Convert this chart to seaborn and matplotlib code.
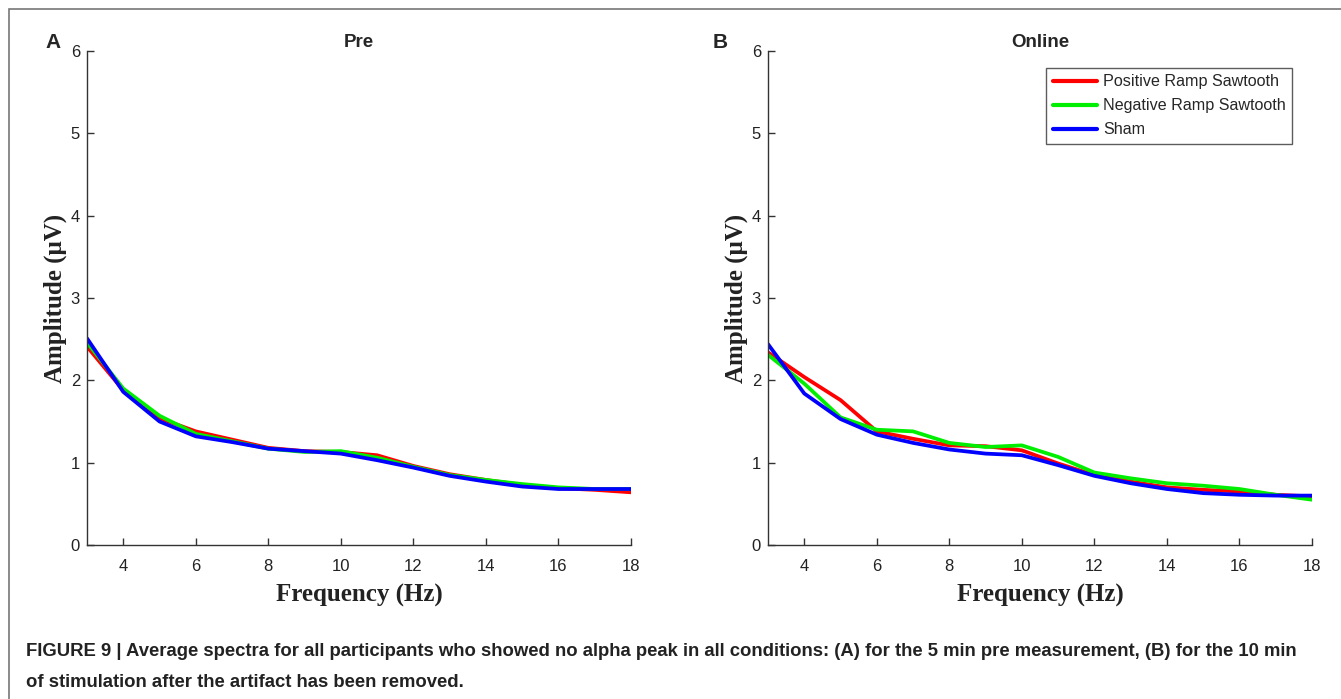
import numpy as np
import pandas as pd
import matplotlib
matplotlib.use("Agg")
import matplotlib.pyplot as plt
import seaborn as sns
from matplotlib.patches import Rectangle

# ---- data ----
freq = [3, 4, 5, 6, 7, 8, 9, 10, 11, 12, 13, 14, 15, 16, 17, 18]

pre_positive = [2.41, 1.88, 1.54, 1.38, 1.28, 1.18, 1.14, 1.13, 1.09, 0.96, 0.86, 0.79, 0.73, 0.69, 0.67, 0.64]
pre_negative = [2.46, 1.90, 1.57, 1.35, 1.26, 1.17, 1.13, 1.14, 1.06, 0.95, 0.85, 0.79, 0.74, 0.70, 0.68, 0.68]
pre_sham     = [2.51, 1.86, 1.50, 1.32, 1.25, 1.17, 1.14, 1.11, 1.03, 0.94, 0.84, 0.77, 0.71, 0.68, 0.68, 0.68]

freq_online_pos = [3, 4, 5, 5.5, 6, 7, 8, 9, 10, 11, 12, 13, 14, 15, 16, 17, 18]
online_positive = [2.34, 2.04, 1.76, 1.57, 1.38, 1.29, 1.21, 1.20, 1.15, 0.99, 0.85, 0.77, 0.70, 0.67, 0.65, 0.61, 0.59]
online_negative = [2.31, 1.96, 1.55, 1.40, 1.38, 1.24, 1.19, 1.21, 1.07, 0.88, 0.81, 0.75, 0.72, 0.68, 0.61, 0.55]
online_sham     = [2.44, 1.84, 1.53, 1.34, 1.24, 1.16, 1.11, 1.09, 0.97, 0.84, 0.75, 0.68, 0.63, 0.61, 0.60, 0.60]

conditions = ["Positive Ramp Sawtooth", "Negative Ramp Sawtooth", "Sham"]
colors = ["#ff0000", "#00ee00", "#0000ff"]
titles = ["Pre", "Online"]
letters = ["A", "B"]
x_ticks = [4, 6, 8, 10, 12, 14, 16, 18]
y_ticks = [0, 1, 2, 3, 4, 5, 6]
caption = ("FIGURE 9 | Average spectra for all participants who showed no alpha peak in all conditions: "
           "(A) for the 5 min pre measurement, (B) for the 10 min\n"
           "of stimulation after the artifact has been removed.")


def long_frame(xs_list, ys_list):
    rows = []
    for cond, xs, ys in zip(conditions, xs_list, ys_list):
        for x, y in zip(xs, ys):
            rows.append({"Frequency": x, "Amplitude": y, "Condition": cond})
    return pd.DataFrame(rows)


df_pre = long_frame([freq, freq, freq], [pre_positive, pre_negative, pre_sham])
df_online = long_frame([freq_online_pos, freq, freq], [online_positive, online_negative, online_sham])

sns.set_style("ticks")
plt.rcParams["font.family"] = ["Liberation Sans", "DejaVu Sans"]

W, H = 1341, 699
fig = plt.figure(figsize=(W / 100, H / 100), dpi=100)
ax_w, ax_top, ax_bot = 544, 51, 545
axA = fig.add_axes([87 / W, 1 - ax_bot / H, ax_w / W, (ax_bot - ax_top) / H])
axB = fig.add_axes([768 / W, 1 - ax_bot / H, ax_w / W, (ax_bot - ax_top) / H])

palette = dict(zip(conditions, colors))
for ax, df, title in zip([axA, axB], [df_pre, df_online], titles):
    sns.lineplot(data=df, x="Frequency", y="Amplitude", hue="Condition",
                 hue_order=conditions, palette=palette, linewidth=2.7,
                 ax=ax, legend=(ax is axB), sort=True, estimator=None)
    ax.set_xlim(3, 18)
    ax.set_ylim(0, 6)
    ax.set_xticks(x_ticks)
    ax.set_yticks(y_ticks)
    ax.tick_params(direction="in", length=5, width=1, colors="#333333",
                   labelsize=12, labelcolor="#222222")
    ax.tick_params(axis="x", pad=10)
    ax.tick_params(axis="y", pad=5)
    for s in ["top", "right"]:
        ax.spines[s].set_visible(False)
    for s in ["left", "bottom"]:
        ax.spines[s].set_color("#333333")
        ax.spines[s].set_linewidth(1.0)
    ax.set_xlabel("Frequency (Hz)", family="Liberation Serif", fontweight="bold",
                  fontsize=18, color="#222222", labelpad=7)
    ax.set_ylabel("Amplitude (\u03bcV)", family="Liberation Serif", fontweight="bold",
                  fontsize=18, color="#222222", labelpad=3)
    ax.set_title(title, fontweight="bold", fontsize=13.5, pad=3)
    ax.patch.set_alpha(0)

fig.text(45 / W, 1 - 43 / H, letters[0], fontweight="bold", fontsize=15, va="center", ha="left")
fig.text(713 / W, 1 - 43 / H, letters[1], fontweight="bold", fontsize=15, va="center", ha="left")

leg = axB.legend(loc="upper right", bbox_to_anchor=(1292 / W, 1 - 68 / H),
                 bbox_transform=fig.transFigure, frameon=True, fancybox=False,
                 fontsize=11.6, handlelength=2.75, borderpad=0.4, labelspacing=0.55,
                 handletextpad=0.37, borderaxespad=0)
leg.get_frame().set_edgecolor("#333333")
leg.get_frame().set_linewidth(1.0)
for line in leg.get_lines():
    line.set_linewidth(3)

# outer border
fig.patches.append(Rectangle((9 / W, -0.05), 1.2, 1 - 9 / H + 0.05, transform=fig.transFigure,
                             fill=False, edgecolor="#777777", linewidth=1.2))

fig.text(26 / W, 1 - 667 / H, caption, fontweight="bold", fontsize=13.3,
         color="#222222", ha="left", va="center", linespacing=2.1)

fig.savefig("out.png", dpi=100)
